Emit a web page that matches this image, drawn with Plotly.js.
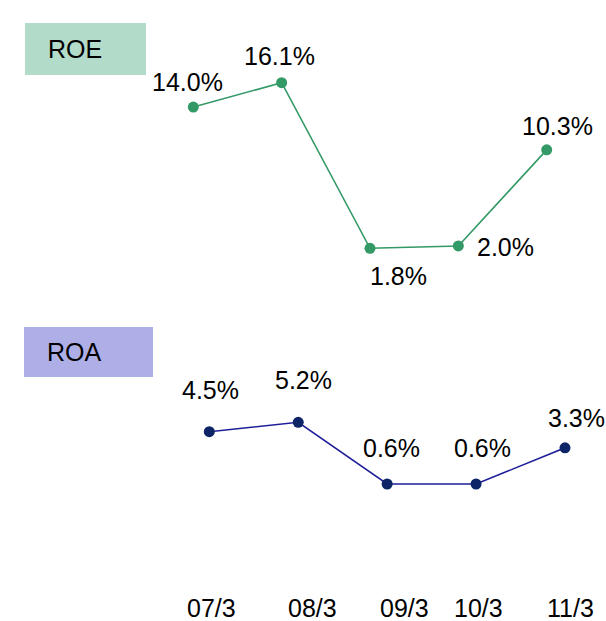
<!DOCTYPE html>
<html><head><meta charset="utf-8">
<script src="https://cdn.plot.ly/plotly-3.0.1.min.js"></script>
<style>html,body{margin:0;padding:0;background:#fff;overflow:hidden}</style>
</head><body><div id="chart" style="width:606px;height:621px"></div>
<script>
// ---- data ----
const periods = ['07/3', '08/3', '09/3', '10/3', '11/3'];
const roe = [14.0, 16.1, 1.8, 2.0, 10.3];
const roa = [4.5, 5.2, 0.6, 0.6, 3.3];
const panelNames = ['ROE', 'ROA'];

// ---- styles / label offsets (px) ----
const roeLabelShift = [[-6, 25], [-2, 27], [28, -28], [47, -1], [11, 24]];
const roaLabelShift = [[1, 42], [5, 42], [4, 36], [6, 36], [11, 30]];
const tickShift = [2, 14, 17, 2, 5];

const W = 606, H = 621;
const FONT = {family: '"Liberation Sans", Arial, sans-serif', size: 25, color: '#000000'};
const roeColor = '#339966', roaLine = '#1f1f99', roaMarker = '#0d2466';
const boxColors = ['#b3dbc9', '#afafe8'];

const traces = [
  {x: periods, y: roe, xaxis: 'x', yaxis: 'y', type: 'scatter', mode: 'lines+markers', cliponaxis: false,
   line: {color: roeColor, width: 1.6}, marker: {color: roeColor, size: 11}, hoverinfo: 'none'},
  {x: periods, y: roa, xaxis: 'x2', yaxis: 'y2', type: 'scatter', mode: 'lines+markers', cliponaxis: false,
   line: {color: roaLine, width: 1.6}, marker: {color: roaMarker, size: 11}, hoverinfo: 'none'}
];

const hidden = {showgrid: false, zeroline: false, showticklabels: false, showline: false, ticks: '', fixedrange: true};
const annotations = [];
roe.forEach((v, i) => annotations.push({x: periods[i], y: v, xref: 'x', yref: 'y', text: v.toFixed(1) + '%',
  showarrow: false, xanchor: 'center', yanchor: 'middle', xshift: roeLabelShift[i][0], yshift: roeLabelShift[i][1], font: FONT}));
roa.forEach((v, i) => annotations.push({x: periods[i], y: v, xref: 'x2', yref: 'y2', text: v.toFixed(1) + '%',
  showarrow: false, xanchor: 'center', yanchor: 'middle', xshift: roaLabelShift[i][0], yshift: roaLabelShift[i][1], font: FONT}));
periods.forEach((p, i) => annotations.push({x: p, y: 1 - 608 / H, xref: 'x2', yref: 'paper', text: p,
  showarrow: false, xanchor: 'center', yanchor: 'middle', height: 24, valign: 'middle', xshift: tickShift[i], font: FONT}));

const boxes = [[25, 146, 23, 75], [24, 153, 327, 377]];
const shapes = boxes.map((b, i) => ({type: 'rect', xref: 'paper', yref: 'paper',
  x0: b[0] / W, x1: b[1] / W, y0: 1 - b[3] / H, y1: 1 - b[2] / H, fillcolor: boxColors[i], line: {width: 0}, layer: 'below'}));
panelNames.forEach((n, i) => annotations.push({x: (boxes[i][0] + 21) / W, y: 1 - ((boxes[i][2] + boxes[i][3]) / 2) / H,
  xref: 'paper', yref: 'paper', text: n, showarrow: false, xanchor: 'left', yanchor: 'middle', font: FONT}));

const layout = {
  width: W, height: H, margin: {l: 0, r: 0, t: 0, b: 0},
  paper_bgcolor: '#ffffff', plot_bgcolor: 'rgba(0,0,0,0)', showlegend: false,
  xaxis: Object.assign({type: 'category', range: [0, 4], domain: [193.3 / W, 546.7 / W], anchor: 'y'}, hidden),
  yaxis: Object.assign({range: [0, 18], domain: [0.5666, 0.90225], anchor: 'x'}, hidden),
  xaxis2: Object.assign({type: 'category', range: [0, 4], domain: [209.3 / W, 565 / W], anchor: 'y2'}, hidden),
  yaxis2: Object.assign({range: [0, 6], domain: [0.20765, 0.3372], anchor: 'x2'}, hidden),
  annotations: annotations, shapes: shapes, font: FONT
};
Plotly.newPlot('chart', traces, layout, {staticPlot: true, displayModeBar: false});
</script></body></html>
